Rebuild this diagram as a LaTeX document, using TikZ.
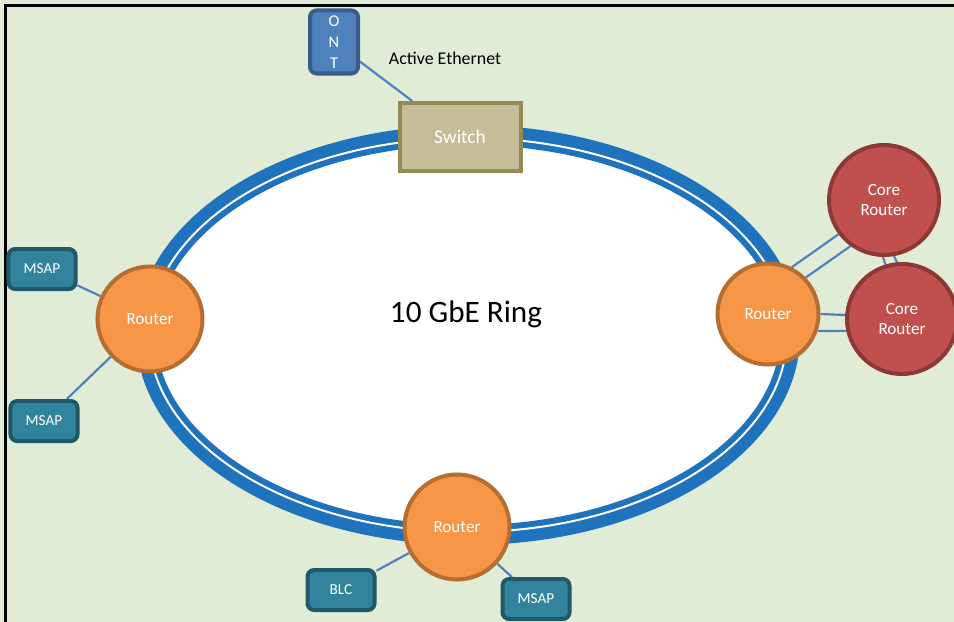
\documentclass[tikz,border=0pt]{standalone}
\usepackage{fontspec}
\setmainfont{Carlito}
\pgfdeclarelayer{ring}
\pgfdeclarelayer{links}
\pgfsetlayers{ring,links,main}
\definecolor{bggreen}{RGB}{224,236,213}
\definecolor{ringblue}{RGB}{31,114,188}
\definecolor{wireblue}{RGB}{79,129,189}
\definecolor{ontline}{RGB}{56,93,138}
\definecolor{swfill}{RGB}{196,189,151}
\definecolor{swline}{RGB}{148,138,84}
\definecolor{routerfill}{RGB}{247,150,70}
\definecolor{routerline}{RGB}{182,109,49}
\definecolor{corefill}{RGB}{192,80,77}
\definecolor{coreline}{RGB}{140,56,54}
\definecolor{tealfill}{RGB}{49,132,155}
\definecolor{tealline}{RGB}{33,89,104}

\begin{document}
\begin{tikzpicture}[x=0.03cm,y=-0.03cm,
    wire/.style={draw=wireblue,line width=0.065cm},
    box/.style={rounded corners=0.2cm,line width=0.12cm,inner sep=0pt,text=white,font=\fontsize{13}{15}\selectfont},
    msap/.style={box,fill=tealfill,draw=tealline,minimum width=2.01cm,minimum height=1.2cm},
    router/.style={circle,fill=routerfill,draw=routerline,line width=0.12cm,inner sep=0pt,minimum size=3.15cm,text=white,font=\fontsize{14.6}{17.9}\selectfont},
    core/.style={router,fill=corefill,draw=coreline,minimum size=3.3cm,align=center}]
    \useasboundingbox (0,0) rectangle (954,622);
    \begin{pgfonlayer}{ring}
        \fill[bggreen] (0,0) rectangle (954,622);
        \draw[ringblue,line width=0.6cm,fill=white] (468,335) ellipse [x radius=9.66cm,y radius=6cm];
        \draw[white,line width=0.06cm] (468,335) ellipse [x radius=9.57cm,y radius=5.91cm];
        \draw[line width=0.09cm] (5,622) -- (5,6) -- (960,6);
    \end{pgfonlayer}
    \node[router] (rl) at (150,319) {Router};
    \node[router,minimum size=3.03cm] (rr) at (768,314) {Router};
    \node[router] (rb) at (457,527) {Router};
    \node[core] (c1) at (884,200) {Core\\Router};
    \node[core] (c2) at (902,319) {Core\\Router};
    \node[msap] (m1) at (42,269) {MSAP};
    \node[msap] (m2) at (44,421) {MSAP};
    \node[msap] (blc) at (341,590) {BLC};
    \node[msap] (m3) at (536,599) {MSAP};
    \node[box,fill=wireblue,draw=ontline,minimum width=1.44cm,minimum height=1.89cm,align=center,font=\fontsize{14}{17.9}\selectfont] (ont) at (334,42) {O\\N\\T};
    \node[box,rounded corners=0pt,fill=swfill,draw=swline,minimum width=3.63cm,minimum height=2.04cm,font=\fontsize{16.5}{19}\selectfont] (sw) at (460,137) {Switch};
    \node[anchor=base,font=\fontsize{15.3}{18}\selectfont] (ae) at (445,65) {Active Ethernet};
    \node[anchor=base,font=\fontsize{26.6}{32}\selectfont] (title) at (466,322) {10 GbE Ring};
    \begin{pgfonlayer}{links}
        \draw[wire] (ont) -- (sw);
        \draw[wire] (m1) -- (rl);
        \draw[wire] (m2) -- (rl);
        \draw[wire] (blc) -- (rb);
        \draw[wire] (m3) -- (rb);
        \draw[wire] (rr.63) -- (c1.217);
        \draw[wire] (rr.44) -- (c1.234);
        \draw[wire] (rr.0) -- (c2.176);
        \draw[wire] (rr.-19) -- (c2.192);
        \draw[wire] (c1.-91) -- (c2.107);
        \draw[wire] (c1.-80) -- (c2.95);
    \end{pgfonlayer}
\end{tikzpicture}
\end{document}
